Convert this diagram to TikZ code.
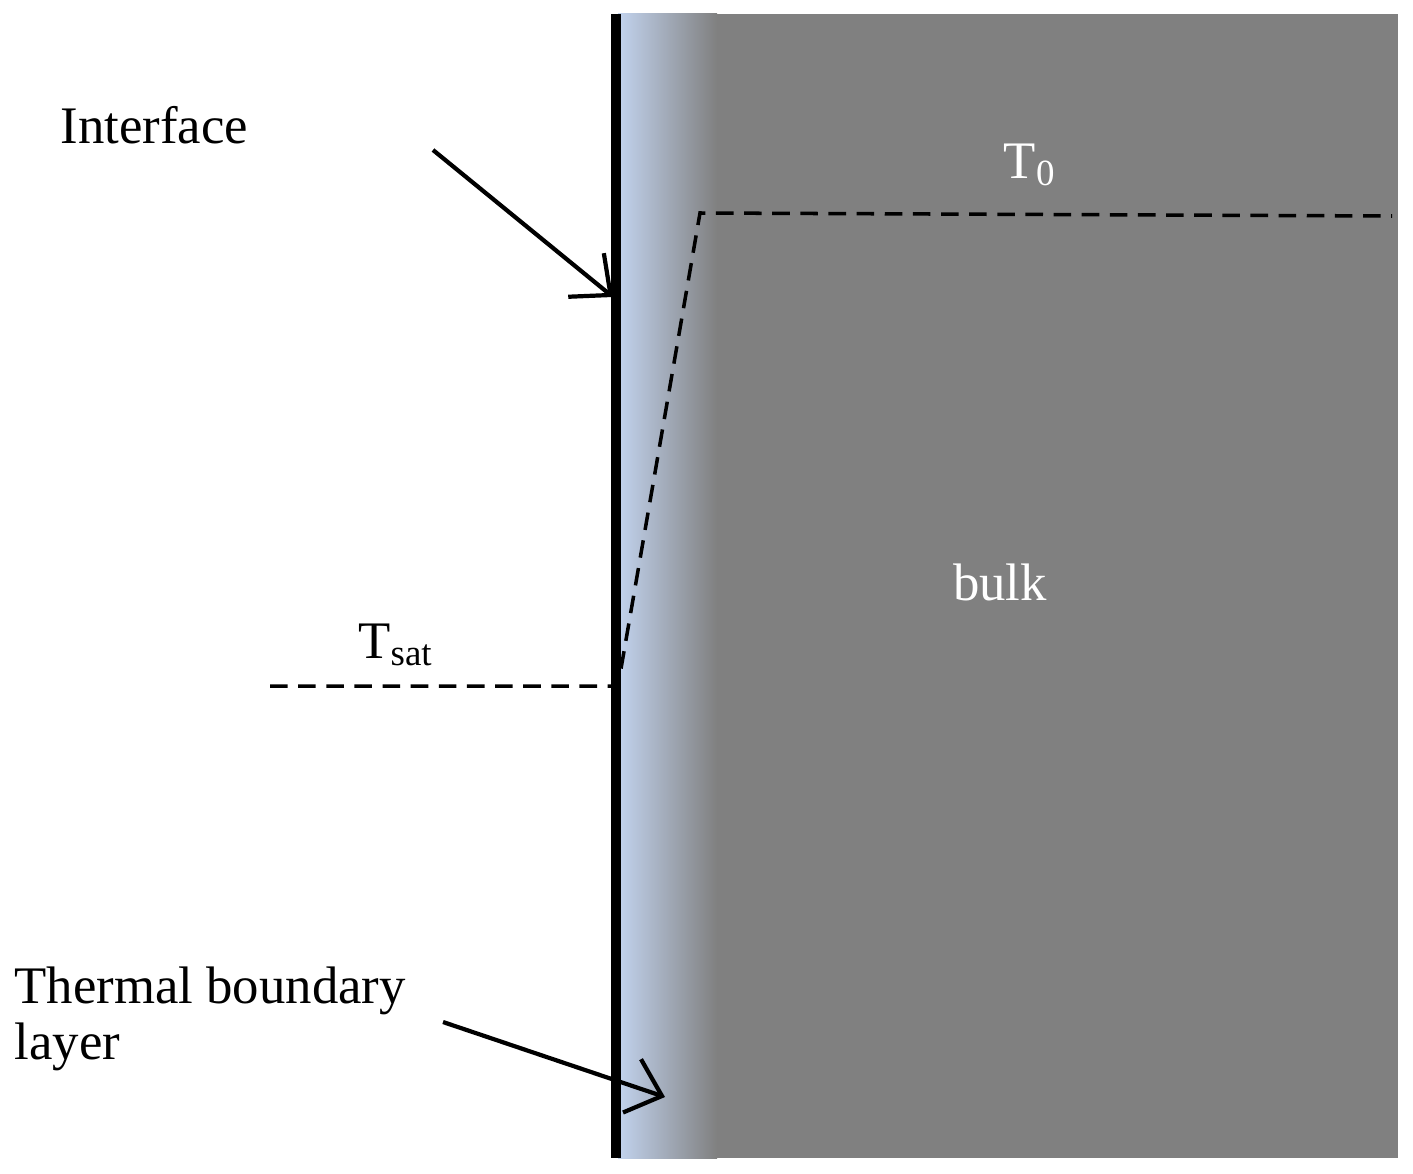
\documentclass[tikz,border=0pt]{standalone}
\usepackage{fontspec}
\setmainfont{Liberation Serif}
\usetikzlibrary{arrows.meta}
\definecolor{bulkgray}{HTML}{808080}
\definecolor{lblue}{HTML}{C2D3EE}
\tikzset{lbl/.style={font=\fontsize{15}{18}\selectfont, inner sep=0pt},
  ptr/.style={line width=1.2pt, -{Straight Barb[length=9pt,width=16pt]}},
  prof/.style={dashed, line width=1pt, dash pattern=on 5pt off 3pt}}
\begin{document}
\begin{tikzpicture}[x=0.01cm,y=-0.01cm]
\useasboundingbox (0,0) rectangle (1413,1173);
\fill[bulkgray] (716,14) rectangle (1398,1158);
\shade[left color=lblue, right color=bulkgray] (618,14) rectangle (717,1158);
\draw[line width=2.6pt] (616,14) -- (616,1158);
\coordinate (a) at (270,686);
\coordinate (b) at (618,686);
\coordinate (c) at (700,213);
\coordinate (d) at (1392,216);
\draw[prof] (a) -- (b) -- (c) -- (d);
\node[lbl, text=white] (t0) at (1030,165) {T\textsubscript{0}};
\node[lbl, text=white] (bulk) at (1000,582) {bulk};
\node[lbl] (tsat) at (396,645) {T\textsubscript{sat}};
\node[lbl, anchor=west] (intf) at (60,125) {Interface};
\node[lbl, anchor=north west, align=left] (tbl) at (14,966) {Thermal boundary\\[-2pt]layer};
\coordinate (i1) at (433,150); \coordinate (i2) at (613,297);
\coordinate (l1) at (443,1022); \coordinate (l2) at (665,1097);
\draw[ptr] (i1) -- (i2);
\draw[ptr] (l1) -- (l2);
\end{tikzpicture}
\end{document}
